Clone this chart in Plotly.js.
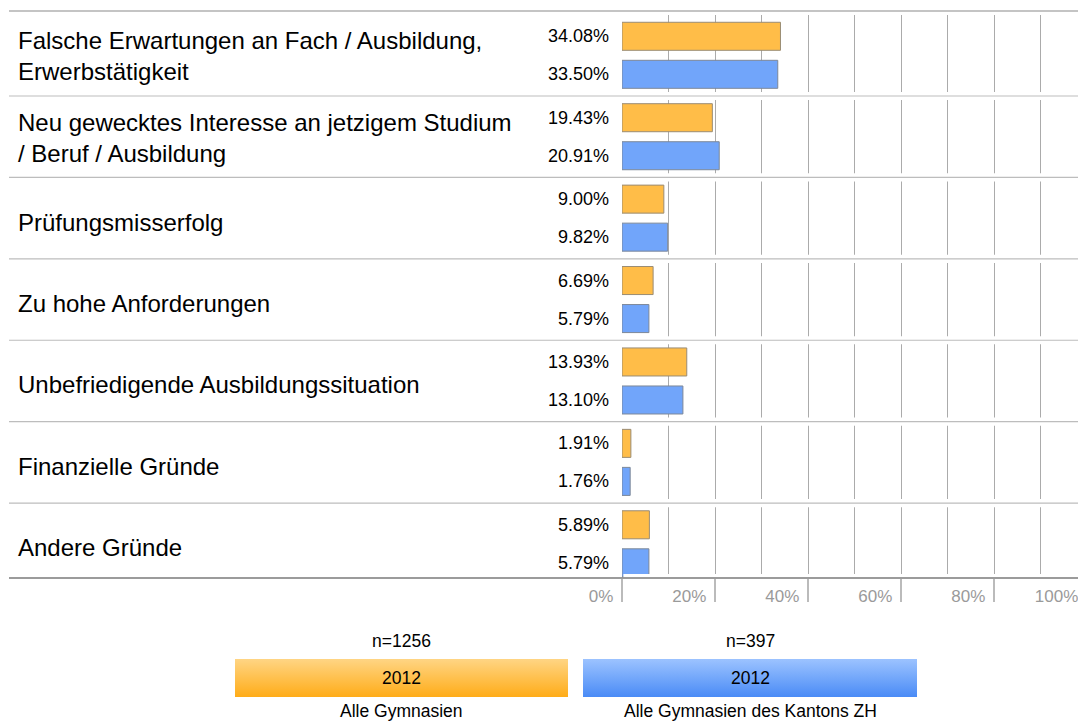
<!DOCTYPE html>
<html>
<head>
<meta charset="utf-8">
<script src="https://cdn.plot.ly/plotly-3.0.1.min.js"></script>
<style>
html,body{margin:0;padding:0;overflow:hidden;background:#fff;}
#chart{width:1100px;height:722px;}
</style>
</head>
<body>
<div id="chart"></div>
<script>
// ---- data ----
var categories = [
  "Falsche Erwartungen an Fach / Ausbildung,<br>Erwerbstätigkeit",
  "Neu gewecktes Interesse an jetzigem Studium<br>/ Beruf / Ausbildung",
  "Prüfungsmisserfolg",
  "Zu hohe Anforderungen",
  "Unbefriedigende Ausbildungssituation",
  "Finanzielle Gründe",
  "Andere Gründe"
];
var alleGymnasien = [34.08, 19.43, 9.00, 6.69, 13.93, 1.91, 5.89];
var kantonZH      = [33.50, 20.91, 9.82, 5.79, 13.10, 1.76, 5.79];
var seriesNames = ["Alle Gymnasien", "Alle Gymnasien des Kantons ZH"];
var seriesN = ["n=1256", "n=397"];
var seriesYear = ["2012", "2012"];
var tickVals = [0, 20, 40, 60, 80, 100];
var tickText = ["0%", "20%", "40%", "60%", "80%", "100%"];

// ---- layout helpers (pixel -> paper) ----
var W = 1100, H = 722;
var M = {l: 622, r: 13, t: 15, b: 144};
var PW = W - M.l - M.r, PH = H - M.t - M.b;
function px(x){ return (x - M.l) / PW; }
function py(y){ return (H - M.b - y) / PH; }
var yRange = [6.42, -0.495];   // category axis (reversed)

var font = "Liberation Sans, Arial, sans-serif";
var orange = "#FFBD48", blue = "#71A5FA";

var traces = [
  {type:"bar", orientation:"h", name:seriesNames[0], y:categories, x:alleGymnasien,
   marker:{color:orange, line:{color:"#9a8c74", width:1}}, hoverinfo:"x+y"},
  {type:"bar", orientation:"h", name:seriesNames[1], y:categories, x:kantonZH,
   marker:{color:blue, line:{color:"#7d8898", width:1}}, hoverinfo:"x+y"}
];

var annotations = [];
var shapes = [];
categories.forEach(function(c, i){
  var twoLine = c.indexOf("<br>") >= 0;
  annotations.push({xref:"paper", yref:"y", x:px(16), y:c, xanchor:"left", yanchor:"middle",
    yshift:(twoLine ? -1 : -4), align:"left", text:c, showarrow:false, font:{family:font, size:24, color:"#000"}});
  annotations.push({xref:"x", yref:"y", x:0, y:c, xanchor:"right", yanchor:"middle",
    xshift:-11, yshift:19, text:alleGymnasien[i].toFixed(2)+"%", showarrow:false,
    font:{family:font, size:18, color:"#000"}});
  annotations.push({xref:"x", yref:"y", x:0, y:c, xanchor:"right", yanchor:"middle",
    xshift:-11, yshift:-19, text:kantonZH[i].toFixed(2)+"%", showarrow:false,
    font:{family:font, size:18, color:"#000"}});
});
// small white gaps in the grid around each separator
for (var k = 1; k < categories.length; k++) {
  shapes.push({type:"rect", xref:"x", yref:"y", x0:0.3, x1:100, y0:k-0.55, y1:k-0.45,
    fillcolor:"#ffffff", line:{width:0}, layer:"above"});
}
shapes.push({type:"rect", xref:"x", yref:"y", x0:0.3, x1:100, y0:yRange[0]-0.05, y1:yRange[0],
  fillcolor:"#ffffff", line:{width:0}, layer:"above"});
// category separators
for (var k = 1; k < categories.length; k++) {
  shapes.push({type:"line", xref:"paper", yref:"y", x0:px(9), x1:px(1100), y0:k-0.5, y1:k-0.5,
    line:{color:"#bdbdbd", width:1.2}, layer:"above"});
}
// top and bottom rules
shapes.push({type:"line", xref:"paper", yref:"paper", x0:px(9), x1:px(1100), y0:py(11), y1:py(11),
  line:{color:"#8a8a8a", width:1.2}, layer:"above"});
shapes.push({type:"line", xref:"paper", yref:"paper", x0:px(9), x1:px(1100), y0:0, y1:0,
  line:{color:"#7a7a7a", width:1.5}, layer:"above"});

// legend blocks (gradient images + text)
function grad(top, bot){
  var s = "<svg xmlns='http://www.w3.org/2000/svg' width='100' height='40' viewBox='0 0 100 40' preserveAspectRatio='none'>" +
    "<defs><linearGradient id='g' x1='0' y1='0' x2='0' y2='1'><stop offset='0' stop-color='"+top+"'/>" +
    "<stop offset='1' stop-color='"+bot+"'/></linearGradient></defs><rect width='100' height='40' fill='url(#g)'/></svg>";
  return "data:image/svg+xml;charset=utf-8," + encodeURIComponent(s);
}
var legendBoxes = [[235, 568, "#FFD584", "#FFAC18"], [583, 917, "#9CC3FF", "#4A8BF6"]];
var images = [];
legendBoxes.forEach(function(b, i){
  images.push({source:grad(b[2], b[3]), xref:"paper", yref:"paper", x:px(b[0]), y:py(659),
    sizex:px(b[1]) - px(b[0]), sizey:py(659) - py(697), xanchor:"left", yanchor:"top",
    sizing:"stretch", layer:"above"});
  var cx = px((b[0] + b[1]) / 2);
  annotations.push({xref:"paper", yref:"paper", x:cx, y:py(641), text:seriesN[i], showarrow:false,
    xanchor:"center", yanchor:"middle", font:{family:font, size:17.5, color:"#000"}});
  annotations.push({xref:"paper", yref:"paper", x:cx, y:py(678), text:seriesYear[i], showarrow:false,
    xanchor:"center", yanchor:"middle", font:{family:font, size:17.5, color:"#000"}});
  annotations.push({xref:"paper", yref:"paper", x:cx, y:py(711), text:seriesNames[i], showarrow:false,
    xanchor:"center", yanchor:"middle", font:{family:font, size:17.5, color:"#000"}});
});

var layout = {
  width: W, height: H,
  margin: M,
  paper_bgcolor:"#fff", plot_bgcolor:"#fff",
  showlegend:false,
  barmode:"group", bargap:0.066, bargroupgap:0.263,
  font:{family:font},
  xaxis:{range:[0,100], tickvals:tickVals, ticktext:tickText, showgrid:true, gridcolor:"#ababab", gridwidth:1,
    minor:{dtick:10, tick0:0, showgrid:true, gridcolor:"#ababab", gridwidth:1, ticks:""},
    ticks:"outside", ticklen:23, tickcolor:"#bbbbbb", tickwidth:1.3,
    ticklabelposition:"outside left", ticklabelstandoff:3, ticklabelshift:-8,
    tickfont:{family:font, size:17, color:"#9a9a9a"},
    zeroline:false, showline:false, fixedrange:true},
  yaxis:{type:"category", range:yRange, autorange:false, showticklabels:false, showgrid:false,
    zeroline:false, showline:false, ticks:"", fixedrange:true},
  annotations: annotations,
  shapes: shapes,
  images: images
};

Plotly.newPlot("chart", traces, layout, {displayModeBar:false, staticPlot:true});
</script>
</body>
</html>
